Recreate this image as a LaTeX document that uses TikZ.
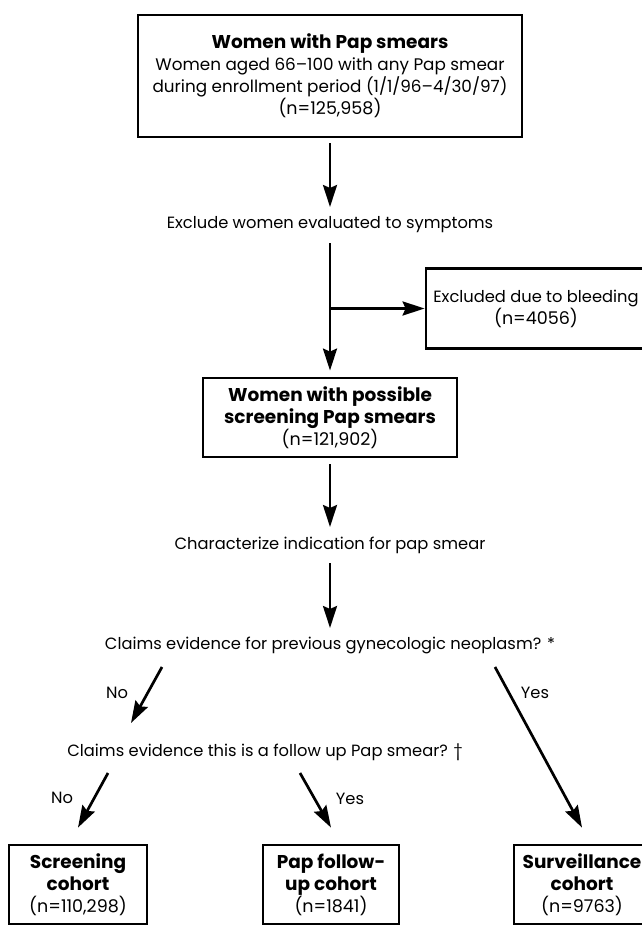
\documentclass[tikz,border=0pt]{standalone}
\usepackage{fontspec}
\setmainfont{Poppins}
\usetikzlibrary{arrows.meta,calc}
\newcommand\hd[1]{{\fontsize{18.5}{22}\selectfont\bfseries #1}}
\newcommand\nv[1]{{\fontsize{17.5}{22}\selectfont #1}}
\begin{document}
\begin{tikzpicture}[x=1pt,y=-1pt,
  every node/.style={font=\fontsize{16.3}{22}\selectfont, inner sep=0pt},
  box/.style={draw, line width=2.8pt, align=center},
  arr/.style={line width=2.7pt, -{Stealth[length=22pt,width=14pt,inset=3pt]}}]
\useasboundingbox (0,0) rectangle (641,933);
% boxes
\node[box, minimum width=384pt, minimum height=122pt, font=\fontsize{16.8}{22}\selectfont] (top) at (330,76)
  {\hd{Women with Pap smears}\\Women aged 66–100 with any Pap smear\\during enrollment period (1/1/96–4/30/97)\\\nv{(n=125,958)}};
\node (excl) at (330,225) {Exclude women evaluated to symptoms};
\node[box, minimum width=220pt, minimum height=80pt] (bleed) at (536,308.5) {Excluded due to bleeding\\\nv{(n=4056)}};
\node[box, minimum width=254pt, minimum height=79pt] (poss) at (330,417.5)
  {\hd{Women with possible}\\\hd{screening Pap smears}\\\nv{(n=121,902)}};
\node (char) at (330,545) {Characterize indication for pap smear};
\node (q1) at (330,645) {Claims evidence for previous gynecologic neoplasm? *};
\node (q2) at (265,752) {Claims evidence this is a follow up Pap smear? \textdagger};
\node[box, minimum width=138pt, minimum height=79pt] (scr) at (78,884.5)
  {\hd{Screening}\\\hd{cohort}\\\nv{(n=110,298)}};
\node[box, minimum width=136pt, minimum height=79pt] (pfu) at (331,884.5)
  {\hd{Pap follow-}\\\hd{up cohort}\\\nv{(n=1841)}};
\node[box, minimum width=136pt, minimum height=79pt] (sur) at (582,884.5)
  {\hd{Surveillance}\\\hd{cohort}\\\nv{(n=9763)}};
% labels
\node (no1) at (117,693) {No};
\node (yes1) at (535,693) {Yes};
\node (no2) at (62,798) {No};
\node (yes2) at (350,799) {Yes};
% connectors
\draw[arr] ([yshift=-5pt]top.south) -- ([yshift=18pt]excl.center);
\draw[arr] ([yshift=-18pt]excl.center) -- ([yshift=6pt]poss.north);
\draw[arr] (excl.center |- bleed.west) -- (bleed.west);
\draw[arr] ([yshift=-6pt]poss.south) -- ([yshift=18pt]char.center);
\draw[arr] ([yshift=-18pt]char.center) -- ([yshift=17pt]q1.center);
\draw[arr] ([shift={(-168pt,-22pt)}]q1.center) -- ([shift={(-134pt,29pt)}]q2.center);
\draw[arr] ([shift={(165pt,-22pt)}]q1.center) -- ([yshift=16pt]sur.north);
\draw[arr] ([shift={(-157pt,-21pt)}]q2.center) -- ([yshift=16pt]scr.north);
\draw[arr] ([shift={(35pt,-21pt)}]q2.center) -- ([yshift=16pt]pfu.north);
\end{tikzpicture}
\end{document}
